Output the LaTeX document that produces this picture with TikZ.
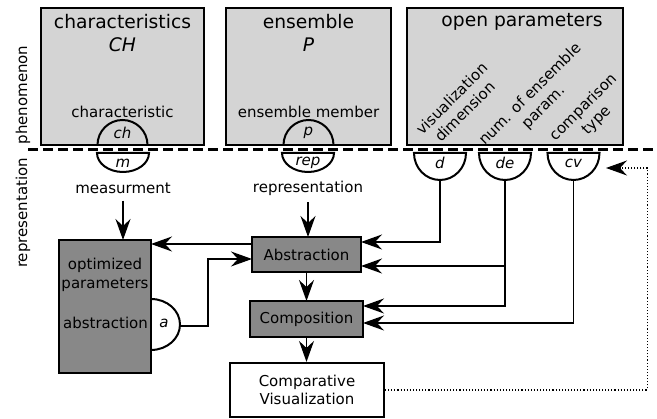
\documentclass[tikz,border=0pt]{standalone}
\usepackage{fontspec}
\setmainfont{DejaVu Sans}
\usetikzlibrary{arrows.meta}
\definecolor{phengray}{RGB}{212,212,212}
\definecolor{procgray}{RGB}{136,136,136}

\begin{document}
\begin{tikzpicture}[x=1pt, y=1pt,
    every node/.style={font=\fontsize{15}{18.5}\selectfont, inner sep=0pt},
    big/.style={font=\fontsize{18.7}{22}\selectfont},
    phenbox/.style={draw, line width=2.1pt, fill=phengray, outer sep=0pt},
    procbox/.style={draw, line width=2.1pt, fill=procgray, outer sep=0pt},
    half/.style={draw, line width=2pt},
    conn/.style={line width=1.4pt, -{Stealth[length=21pt, width=15pt, inset=7pt]}},
    rot/.style={rotate=45, align=center}]
    \useasboundingbox (0,0) rectangle (657,419);

    \node[phenbox, minimum width=163pt, minimum height=137pt] (chbox) at (122.5,342.5) {};
    \node[phenbox, minimum width=165pt, minimum height=137pt] (pbox) at (308.5,342.5) {};
    \node[phenbox, minimum width=216pt, minimum height=137pt] (opbox) at (515,342.5) {};

    \node[big] (chtitle) at (122.5,397) {characteristics};
    \node[big] (chsym) at (122.5,374) {\itshape CH};
    \node[big] (ptitle) at (308.5,397) {ensemble};
    \node[big] (psym) at (308.5,374) {\itshape P};
    \node[big] (optitle) at (522,397) {open parameters};

    \node (chlabel) at (122.5,307) {characteristic};
    \node (plabel) at (308.5,307) {ensemble member};
    \draw[half] (chbox.south) ++(-25,0) arc[start angle=180, end angle=0, radius=25];
    \draw[half] (pbox.south) ++(-25,0) arc[start angle=180, end angle=0, radius=25];
    \node (ch) at (122.5,286) {\itshape ch};
    \node (p) at (308.5,286) {\itshape p};

    \node[rot] (vislabel) at (458,314) {visualization\\dimension};
    \node[rot] (numlabel) at (537,318) {num. of ensemble\\param.};
    \node[rot] (cmplabel) at (590,305) {comparison\\type};

    \draw[line width=3pt, dash pattern=on 10pt off 5pt] (28,269) -- (653,269);
    \node[rotate=90] (phen) at (23,324) {phenomenon};
    \node[rotate=90] (repr) at (23,206) {representation};

    \draw[half] (97,266) -- ++(52,0) arc[start angle=0, end angle=-180, x radius=26, y radius=19] -- cycle;
    \draw[half] (282,266) -- ++(52,0) arc[start angle=0, end angle=-180, x radius=26, y radius=19] -- cycle;
    \draw[half] (414,266) -- ++(52,0) arc[start angle=0, end angle=-180, x radius=26, y radius=27] -- cycle;
    \draw[half] (479,266) -- ++(52,0) arc[start angle=0, end angle=-180, x radius=26, y radius=27] -- cycle;
    \draw[half] (547.5,266) -- ++(52,0) arc[start angle=0, end angle=-180, x radius=26, y radius=27] -- cycle;
    \node (m) at (123,256) {\itshape m};
    \node (rep) at (308,256) {\itshape rep};
    \node (d) at (440,256) {\itshape d};
    \node (de) at (505,256) {\itshape de};
    \node (cv) at (573.5,256) {\itshape cv};
    \coordinate (dfoot) at (440,239);
    \coordinate (defoot) at (505,239);
    \coordinate (cvfoot) at (573.5,239);
    \coordinate (cvtip) at (606,251);

    \node (meas) at (123,231) {measurment};
    \node (repl) at (308,231) {representation};

    \node[procbox, minimum width=92pt, minimum height=133pt] (optbox) at (105,112.5) {};
    \node[align=center] (optl) at (105,144) {optimized\\parameters};
    \node (absl) at (105.5,96) {abstraction};
    \draw[half] (optbox.east |- 0,120) arc[start angle=90, end angle=-90, x radius=29, y radius=25.5];
    \node (a) at (164,96) {\itshape a};
    \coordinate (afoot) at (180,93);

    \node[procbox, minimum width=109pt, minimum height=35pt] (abs) at (306.5,164.5) {Abstraction};
    \node[procbox, minimum width=113pt, minimum height=36pt] (comp) at (306.5,100) {Composition};
    \node[draw, line width=2.1pt, fill=white, minimum width=154pt, minimum height=54pt, align=center] (cmpvis) at (307,29) {Comparative\\Visualization};

    \draw[conn, shorten <=7pt] (meas.south) -- (meas.south |- optbox.north);
    \draw[conn, shorten <=7pt] (repl.south) -- (repl.south |- abs.north);
    \draw[conn] ([yshift=10.5pt]abs.west) -- ([yshift=10.5pt]abs.west -| optbox.east);
    \draw[conn] (afoot) -- ++(28,0) |- ([yshift=-4.5pt]abs.west);
    \draw[conn] (dfoot) |- ([yshift=12.5pt]abs.east);
    \draw[conn] (defoot) |- ([yshift=13pt]comp.east);
    \draw[conn] ([yshift=-11.5pt]abs.east -| defoot) -- ([yshift=-11.5pt]abs.east);
    \draw[conn] (cvfoot) |- ([yshift=-4pt]comp.east);
    \draw[conn] (abs) -- (comp);
    \draw[conn] (comp.south) -- (comp.south |- cmpvis.north);
    \draw[conn, line width=1.1pt, dotted] (cmpvis.east) -- ++(262,0) |- (cvtip);
\end{tikzpicture}
\end{document}
